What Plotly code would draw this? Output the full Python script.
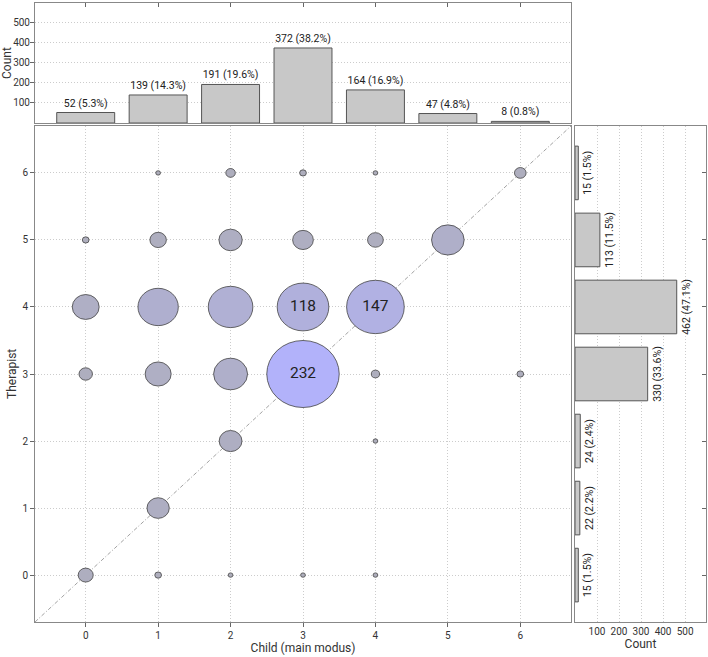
import plotly.graph_objects as go

# ---- data ----
levels = [0, 1, 2, 3, 4, 5, 6]
child_counts = [52, 139, 191, 372, 164, 47, 8]        # marginal counts along x (Child)
therapist_counts = [15, 22, 24, 330, 462, 113, 15]     # marginal counts along y (Therapist)

# joint counts: (child, therapist, n)
cell_child =     [0, 0, 0, 0,  1, 1, 1, 1, 1, 1,  2, 2, 2, 2, 2, 2,  3, 3, 3, 3, 3,  4, 4, 4, 4, 4, 4,  5,  6, 6]
cell_therapist = [0, 3, 4, 5,  0, 1, 3, 4, 5, 6,  0, 2, 3, 4, 5, 6,  0, 3, 4, 5, 6,  0, 2, 3, 4, 5, 6,  5,  3, 6]
cell_n =         [10, 8, 32, 2, 2, 22, 30, 72, 12, 1, 1, 23, 51, 88, 24, 4, 1, 232, 118, 19, 2, 1, 1, 3, 147, 11, 1, 47, 2, 6]

x_title = "Child (main modus)"
y_title = "Therapist"
count_title = "Count"
label_threshold = 100

# ---- figure ----
FONT = "Roboto"
fig = go.Figure()

nmax = max(cell_n)
rmax = 0.5
c0 = (174, 174, 188)
c1 = (178, 178, 250)

def col(n):
    t = n / nmax
    return "rgb(%d,%d,%d)" % tuple(round(a + (b - a) * t) for a, b in zip(c0, c1))

shapes = []
# diagonal reference line
shapes.append(dict(type="line", xref="x", yref="y", x0=-0.7, y0=-0.7, x1=6.7, y1=6.7,
                   line=dict(color="#8a8a8a", width=0.8, dash="4px,2px,1px,2px"), layer="between"))
for cx, cy, n in zip(cell_child, cell_therapist, cell_n):
    r = rmax * (n / nmax) ** 0.5
    shapes.append(dict(type="circle", xref="x", yref="y", x0=cx - r, x1=cx + r, y0=cy - r, y1=cy + r,
                       fillcolor=col(n), line=dict(color="#444444", width=0.8), layer="between"))

# labels on the large bubbles
lx = [c for c, n in zip(cell_child, cell_n) if n > label_threshold]
ly = [t for t, n in zip(cell_therapist, cell_n) if n > label_threshold]
lt = [str(n) for n in cell_n if n > label_threshold]
fig.add_trace(go.Scatter(x=lx, y=ly, text=lt, mode="text", xaxis="x", yaxis="y",
                         textfont=dict(family=FONT, size=15.5, color="#222222"),
                         hoverinfo="skip", showlegend=False))

# top histogram
tot_c = sum(child_counts)
fig.add_trace(go.Bar(x=levels, y=child_counts, xaxis="x2", yaxis="y2", width=0.8,
                     marker=dict(color="#c8c8c8", line=dict(color="#555555", width=1)),
                     text=["%d (%.1f%%)" % (v, 100 * v / tot_c) for v in child_counts],
                     textposition="outside", cliponaxis=False, constraintext="none",
                     textfont=dict(family=FONT, size=10.5, color="#222222"),
                     showlegend=False))

# right histogram
tot_t = sum(therapist_counts)
fig.add_trace(go.Bar(y=levels, x=therapist_counts, orientation="h", xaxis="x3", yaxis="y3", width=0.8,
                     marker=dict(color="#c8c8c8", line=dict(color="#555555", width=1)),
                     text=["%d (%.1f%%)" % (v, 100 * v / tot_t) for v in therapist_counts],
                     textposition="outside", textangle=-90, cliponaxis=False, constraintext="none",
                     textfont=dict(family=FONT, size=10.5, color="#222222"),
                     showlegend=False))

W, H = 708, 657
ML, MR, MT, MB = 35, 2, 3, 35
PW, PH = W - ML - MR, H - MT - MB

def fx(px):
    return (px - ML) / PW

def fy(py):
    return (H - MB - py) / PH

xd_main = [0, fx(571)]
xd_right = [fx(575), 1]
yd_main = [0, fy(126)]
yd_top = [fy(123), 1]

axcommon = dict(showline=True, linecolor="#888888", linewidth=1, mirror=True,
                gridcolor="#cccccc", griddash="1px,2px", gridwidth=1, zeroline=False,
                tickfont=dict(family=FONT, size=10, color="#333333"),
                tickcolor="#666666", ticklen=4)
title_font = dict(family=FONT, size=12, color="#333333")
rng = [-0.7, 6.7]

annotations = [
    dict(text=count_title, xref="paper", yref="paper", x=fx(7), y=fy(63), showarrow=False,
         textangle=-90, xanchor="center", yanchor="middle", font=title_font),
    dict(text=y_title, xref="paper", yref="paper", x=fx(12), y=fy(374), showarrow=False,
         textangle=-90, xanchor="center", yanchor="middle", font=title_font),
]

fig.update_layout(
    width=W, height=H, margin=dict(l=ML, r=MR, t=MT, b=MB, autoexpand=False),
    paper_bgcolor="white", plot_bgcolor="white",
    font=dict(family=FONT, color="#333333"),
    shapes=shapes, annotations=annotations, bargap=0.2,
    xaxis=dict(domain=xd_main, anchor="y", range=rng, tickvals=levels, ticks="outside",
               title=dict(text=x_title, font=title_font, standoff=3), **axcommon),
    yaxis=dict(domain=yd_main, anchor="x", range=rng, tickvals=levels, ticks="outside", **axcommon),
    xaxis2=dict(domain=xd_main, anchor="y2", range=rng, tickvals=levels, ticks="inside", side="top",
                showticklabels=False, showgrid=False, **axcommon),
    yaxis2=dict(domain=yd_top, anchor="x2", range=[0, 595], tickvals=[100, 200, 300, 400, 500],
                ticks="outside", ticklabelstandoff=-2, **axcommon),
    xaxis3=dict(domain=xd_right, anchor="y3", range=[0, 595], tickvals=[100, 200, 300, 400, 500],
                ticks="", title=dict(text=count_title, font=title_font, standoff=3), **axcommon),
    yaxis3=dict(domain=yd_main, anchor="x3", range=rng, tickvals=levels, ticks="inside", side="right",
                showticklabels=False, showgrid=False, **axcommon),
)

fig.write_html("out.html", config={"displayModeBar": False},
               post_script="document.body.style.margin='0';document.body.style.padding='0';")
